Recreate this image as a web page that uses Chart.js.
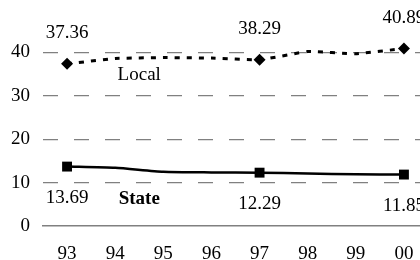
<!DOCTYPE html>
<html>
<head>
<meta charset="utf-8">
<script src="https://cdn.jsdelivr.net/npm/chart.js@4"></script>
<style>
  html, body { margin: 0; padding: 0; background: #fff; overflow: hidden; }
  #wrap { width: 420px; height: 260px; overflow: hidden; }
</style>
</head>
<body>
<div id="wrap"><canvas id="chart" width="435" height="260"></canvas></div>
<script>
// Data
const years = ['93', '94', '95', '96', '97', '98', '99', '00'];
const localValues = [37.36, 38.6, 38.8, 38.7, 38.29, 40.2, 39.7, 40.89];
const stateValues = [13.69, 13.4, 12.5, 12.35, 12.29, 12.1, 11.9, 11.85];
const localLabels = ['37.36', '', '', '', '38.29', '', '', '40.89'];
const stateLabels = ['13.69', '', '', '', '12.29', '', '', '11.85'];
const yTicks = [0, 10, 20, 30, 40];

const FONT = '"Liberation Serif", "Times New Roman", serif';
const SIZE = 19;

// Draws value labels and the series names
const labelPlugin = {
  id: 'labelPlugin',
  afterDatasetsDraw(chart) {
    const ctx = chart.ctx;
    ctx.save();
    ctx.fillStyle = '#000';
    ctx.textAlign = 'center';
    ctx.textBaseline = 'middle';
    ctx.font = SIZE + 'px ' + FONT;
    const drawLabels = (dsIndex, labels, dy) => {
      const meta = chart.getDatasetMeta(dsIndex);
      meta.data.forEach((pt, i) => {
        if (labels[i]) ctx.fillText(labels[i], pt.x, pt.y + dy);
      });
    };
    drawLabels(0, localLabels, -31);
    drawLabels(1, stateLabels, 31);

    // Series names, between 94 and 95
    const m0 = chart.getDatasetMeta(0).data;
    const m1 = chart.getDatasetMeta(1).data;
    ctx.fillText('Local', (m0[1].x + m0[2].x) / 2, (m0[1].y + m0[2].y) / 2 + 17);
    ctx.font = 'bold ' + SIZE + 'px ' + FONT;
    ctx.fillText('State', (m1[1].x + m1[2].x) / 2, (m1[1].y + m1[2].y) / 2 + 29);
    ctx.restore();
  }
};

new Chart(document.getElementById('chart'), {
  type: 'line',
  data: {
    labels: years,
    datasets: [
      {
        label: 'Local',
        data: localValues,
        borderColor: '#000',
        backgroundColor: '#000',
        borderWidth: 3,
        borderDash: [5, 7],
        tension: 0.1,
        pointStyle: 'rectRot',
        pointRadius: (c) => (localLabels[c.dataIndex] ? 6 : 0),
        pointBorderWidth: 0
      },
      {
        label: 'State',
        data: stateValues,
        borderColor: '#000',
        backgroundColor: '#000',
        borderWidth: 2.5,
        tension: 0.2,
        pointStyle: 'rect',
        pointRadius: (c) => (stateLabels[c.dataIndex] ? 7 : 0),
        pointBorderWidth: 0
      }
    ]
  },
  options: {
    responsive: false,
    animation: false,
    layout: { padding: { top: 9, right: 0, left: 0, bottom: 0 } },
    plugins: { legend: { display: false }, tooltip: { enabled: false } },
    scales: {
      x: {
        offset: true,
        grid: { display: false, drawTicks: false },
        border: { display: true, color: '#808080', width: 1.5 },
        ticks: { color: '#000', font: { family: FONT, size: SIZE }, padding: 17 },
        afterFit: (s) => { s.height = 34; s.paddingLeft = 0; s.paddingRight = 0; }
      },
      y: {
        min: 0,
        max: 50,
        afterBuildTicks: (s) => { s.ticks = yTicks.map(v => ({ value: v })); },
        grid: {
          drawTicks: false,
          lineWidth: 1.2,
          color: (c) => (c.tick && c.tick.value === 0 ? 'rgba(0,0,0,0)' : '#808080')
        },
        border: { display: false, dash: [15, 16] },
        ticks: {
          color: '#000',
          font: { family: FONT, size: SIZE },
          padding: 13
        },
        afterFit: (s) => { s.width = 43; s.paddingTop = 0; s.paddingBottom = 0; }
      }
    }
  },
  plugins: [labelPlugin]
});
</script>
</body>
</html>
